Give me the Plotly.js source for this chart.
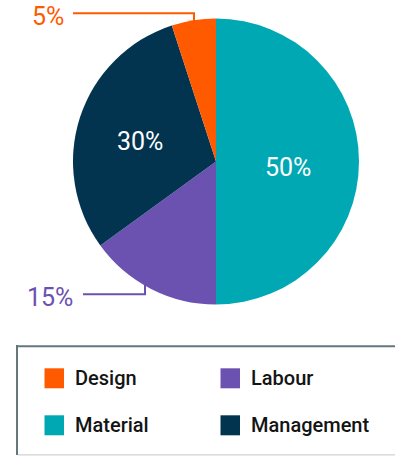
<!DOCTYPE html>
<html>
<head>
<meta charset="utf-8">
<script src="https://cdn.plot.ly/plotly-3.0.1.min.js"></script>
<style>html,body{margin:0;padding:0;background:#fff;}#chart{width:395px;height:456px;}</style>
</head>
<body>
<div id="chart"></div>
<script>
// ---- data ----
const categories = ['Material', 'Labour', 'Management', 'Design'];
const shares = [50, 15, 30, 5];
const sliceColors = ['#00A8B4', '#6B51B0', '#023450', '#FF5A00'];
const legendOrder = ['Design', 'Labour', 'Material', 'Management'];

// ---- layout helpers (pixel -> paper) ----
const W = 395, H = 456;
const px = x => x / W;
const py = y => 1 - y / H;
const colorOf = name => sliceColors[categories.indexOf(name)];
const valueOf = name => shares[categories.indexOf(name)];

// pie geometry
const cx = 216, cy = 161.5, r = 143;

const trace = {
  type: 'pie',
  labels: categories,
  values: shares,
  sort: false,
  direction: 'clockwise',
  rotation: 0,
  marker: { colors: sliceColors, line: { width: 0 } },
  textinfo: 'none',
  hoverinfo: 'label+percent',
  showlegend: false,
  domain: { x: [px(cx - r), px(cx + r)], y: [py(cy + r), py(cy - r)] }
};

// label placements
const labelPos = {
  'Material':   { x: 287.5, y: 167, color: '#ffffff' },
  'Management': { x: 140,   y: 141, color: '#ffffff' },
  'Design':     { x: 48.3,  y: 16.5, color: colorOf('Design') },
  'Labour':     { x: 50.5,  y: 297, color: colorOf('Labour') }
};

const annotations = [];
categories.forEach(c => {
  const p = labelPos[c];
  annotations.push({
    xref: 'paper', yref: 'paper', x: px(p.x), y: py(p.y),
    xanchor: 'center', yanchor: 'middle', showarrow: false,
    text: valueOf(c) + '%',
    font: { family: 'Roboto', size: 25, color: p.color }
  });
});

const shapes = [];
// leader lines
const leaders = [
  { name: 'Design', pts: [[73, 13.3], [194, 13.3], [194, 22]] },
  { name: 'Labour', pts: [[83, 294.3], [145, 294.3], [145, 285]] }
];
leaders.forEach(l => {
  const path = l.pts.map((p, i) => (i ? 'L' : 'M') + px(p[0]) + ',' + py(p[1])).join(' ');
  shapes.push({ type: 'path', xref: 'paper', yref: 'paper', path: path,
    line: { color: colorOf(l.name), width: 2 }, fillcolor: 'rgba(0,0,0,0)' });
});

// legend box
shapes.push({ type: 'rect', xref: 'paper', yref: 'paper',
  x0: px(17), x1: px(410), y0: py(454.5), y1: py(346.5),
  line: { width: 0 }, fillcolor: '#ffffff', layer: 'below' });
shapes.push({ type: 'line', xref: 'paper', yref: 'paper',
  x0: px(17), x1: px(17), y0: py(455), y1: py(345), line: { color: '#66767c', width: 2 } });
shapes.push({ type: 'line', xref: 'paper', yref: 'paper',
  x0: px(16), x1: px(410), y0: py(346.2), y1: py(346.2), line: { color: '#66767c', width: 2 } });
shapes.push({ type: 'line', xref: 'paper', yref: 'paper',
  x0: px(18), x1: px(410), y0: py(454.8), y1: py(454.8), line: { color: '#cfd3d5', width: 1.2 } });

// legend entries (2 columns)
const colX = [44.5, 220.5], rowY = [378.3, 425.3];
legendOrder.forEach((name, i) => {
  const x = colX[i % 2], y = rowY[Math.floor(i / 2)];
  shapes.push({ type: 'rect', xref: 'paper', yref: 'paper',
    x0: px(x), x1: px(x + 19.5), y0: py(y + 10), y1: py(y - 10),
    line: { width: 0 }, fillcolor: colorOf(name) });
  annotations.push({ xref: 'paper', yref: 'paper', x: px(x + 28), y: py(y),
    xanchor: 'left', yanchor: 'middle', showarrow: false, text: name,
    font: { family: 'Roboto', size: 20, weight: 500, color: '#141414' } });
});

const layout = {
  width: W, height: H,
  margin: { l: 0, r: 0, t: 0, b: 0 },
  paper_bgcolor: '#ffffff',
  showlegend: false,
  annotations: annotations,
  shapes: shapes
};

Plotly.newPlot('chart', [trace], layout, { displayModeBar: false, staticPlot: true });
</script>
</body>
</html>
